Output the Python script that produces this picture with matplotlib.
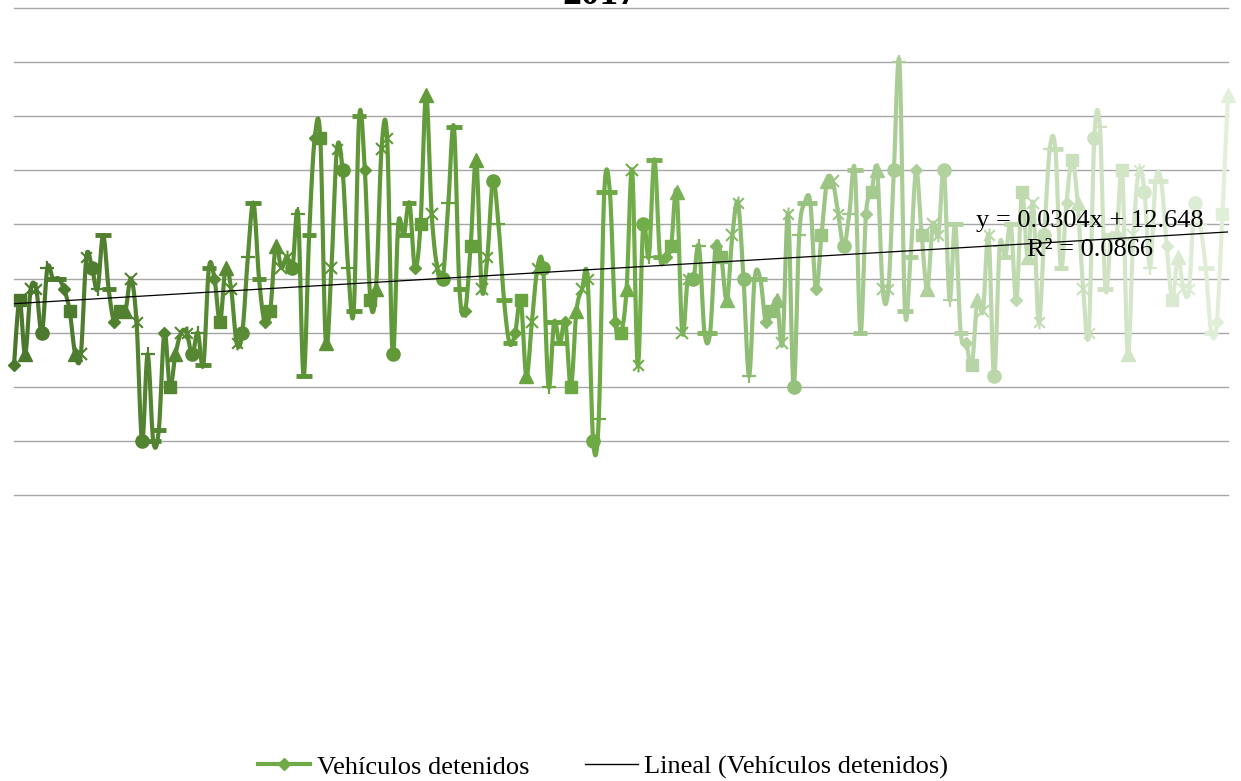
import numpy as np
import matplotlib
matplotlib.use("Agg")
import matplotlib.pyplot as plt
from matplotlib.path import Path
from matplotlib.lines import Line2D
from matplotlib.colors import LinearSegmentedColormap

# datos: vehículos detenidos por día
vehiculos = [
    7, 13, 8, 14, 14, 10, 16, 15, 15, 14, 12, 8, 8, 17, 16, 14, 19, 14, 11, 12,
    12, 15, 11, 0, 8, 0, 1, 10, 5, 8, 10, 10, 8, 10, 7, 16, 15, 11, 16, 14,
    9, 10, 17, 22, 15, 11, 12, 18, 16, 17, 16, 21, 6, 19, 28, 28, 9, 16, 27, 25,
    16, 12, 30, 25, 13, 14, 27, 28, 8, 20, 19, 22, 16, 20, 32, 21, 16, 15, 22, 29,
    14, 12, 18, 26, 14, 17, 24, 20, 13, 9, 10, 13, 6, 11, 16, 16, 5, 11, 9, 11,
    5, 12, 14, 15, 0, 2, 23, 23, 11, 10, 14, 25, 7, 20, 17, 26, 17, 17, 18, 23,
    10, 15, 15, 18, 10, 10, 18, 17, 13, 19, 22, 15, 6, 15, 15, 11, 12, 13, 9, 21,
    5, 19, 22, 22, 14, 19, 24, 24, 21, 18, 21, 25, 10, 21, 23, 25, 14, 14, 25, 35,
    12, 17, 25, 19, 14, 20, 19, 25, 13, 20, 10, 9, 7, 13, 12, 19, 6, 18, 17, 20,
    13, 23, 17, 22, 11, 19, 27, 27, 16, 22, 26, 22, 14, 10, 28, 29, 14, 19, 19, 25,
    8, 19, 25, 23, 16, 24, 24, 18, 13, 17, 14, 14, 22, 20, 16, 10, 11, 21, 32,
]
pendiente = 0.0304
intercepto = 12.648
r2 = 0.0866
titulo = "2017"
serie = "Vehículos detenidos"
serie_tendencia = "Lineal (Vehículos detenidos)"

W, H = 1241, 781
fig = plt.figure(figsize=(W / 100, H / 100), dpi=100)
ax = fig.add_axes([14 / W, (H - 495) / H, 1214 / W, 487 / H])

n = len(vehiculos)
x = np.arange(1, n + 1)
y = np.array(vehiculos, dtype=float)

# paleta monocromática verde (oscuro -> claro)
cmap = LinearSegmentedColormap.from_list("verdes", [
    (0.0, "#4A772C"), (0.15, "#568832"), (0.3, "#609838"), (0.45, "#6AA642"),
    (0.52, "#71AD49"), (0.6, "#8BBB70"), (0.7, "#A3C98D"), (0.8, "#B9D6A8"),
    (0.9, "#CFE3C3"), (1.0, "#E2EFDA")])
colores = [cmap(i / (n - 1)) for i in range(n)]

# línea suavizada (bezier tipo Excel), un tramo por punto
t = np.linspace(0, 1, 16)[:, None]
for i in range(n - 1):
    p0 = np.array([x[max(i - 1, 0)], y[max(i - 1, 0)]])
    p1 = np.array([x[i], y[i]])
    p2 = np.array([x[i + 1], y[i + 1]])
    p3 = np.array([x[min(i + 2, n - 1)], y[min(i + 2, n - 1)]])
    c1 = p1 + (p2 - p0) / 6
    c2 = p2 - (p3 - p1) / 6
    b = ((1 - t) ** 3) * p1 + 3 * ((1 - t) ** 2) * t * c1 + 3 * (1 - t) * t ** 2 * c2 + t ** 3 * p2
    ax.plot(b[:, 0], b[:, 1], color=colores[i + 1], lw=3, solid_capstyle="round",
            clip_on=False, zorder=2)

asterisco = Path([(-1, -1), (1, 1), (-1, 1), (1, -1), (0, -1.3), (0, 1.3)],
                 [Path.MOVETO, Path.LINETO] * 3)
marcadores = [("D", 6.5, 1), ("s", 9, 1), ("^", 10, 1), ("x", 9, 1.5), (asterisco, 10, 1.5),
              ("o", 9.5, 1), ("+", 10, 1.6), ("_", 12, 3.5), ("_", 10, 3.5)]
for i in range(n):
    m, ms, mew = marcadores[i % 9]
    ax.plot(x[i], y[i], marker=m, ms=ms, mew=mew, color=colores[i],
            mec=colores[i], mfc=colores[i], clip_on=False, zorder=3)

# línea de tendencia
ax.plot([x[0], x[-1]], [intercepto + pendiente * x[0], intercepto + pendiente * x[-1]],
        color="black", lw=0.9, zorder=4)

ax.set_xlim(1, n)
ax.set_ylim(-5, 40)
ax.set_xticks([])
ax.set_yticks([])
for v in np.arange(-5, 41, 5):
    ax.axhline(v, color="#A6A6A6", lw=1, clip_on=False, zorder=1)
ax.tick_params(length=0, labelleft=False, labelbottom=False)
for s in ax.spines.values():
    s.set_visible(False)

fuente = "Liberation Serif"
fig.text(1090 / W, 1 - 221 / H, f"y = {pendiente}x + {intercepto}", ha="center", va="center",
         fontsize=19, family=fuente, zorder=5)
fig.text(1090 / W, 1 - 250 / H, f"R² = {r2}", ha="center", va="center",
         fontsize=19, family=fuente, zorder=5)

fig.text(600 / W, 1 - 4 / H, titulo, ha="center", va="baseline", fontsize=27,
         fontweight="bold", family=fuente)

h1 = Line2D([], [], color="#6FAA46", lw=3, marker="D", ms=6.5)
h2 = Line2D([], [], color="black", lw=1)
fig.legend([h1, h2], [serie, serie_tendencia], loc="center", bbox_to_anchor=(603 / W, 1 - 767 / H),
           ncol=2, frameon=False, prop=dict(family=fuente, size=19), handlelength=2.0,
           handletextpad=0.25, columnspacing=2.1)

fig.savefig("out.png", dpi=100)
